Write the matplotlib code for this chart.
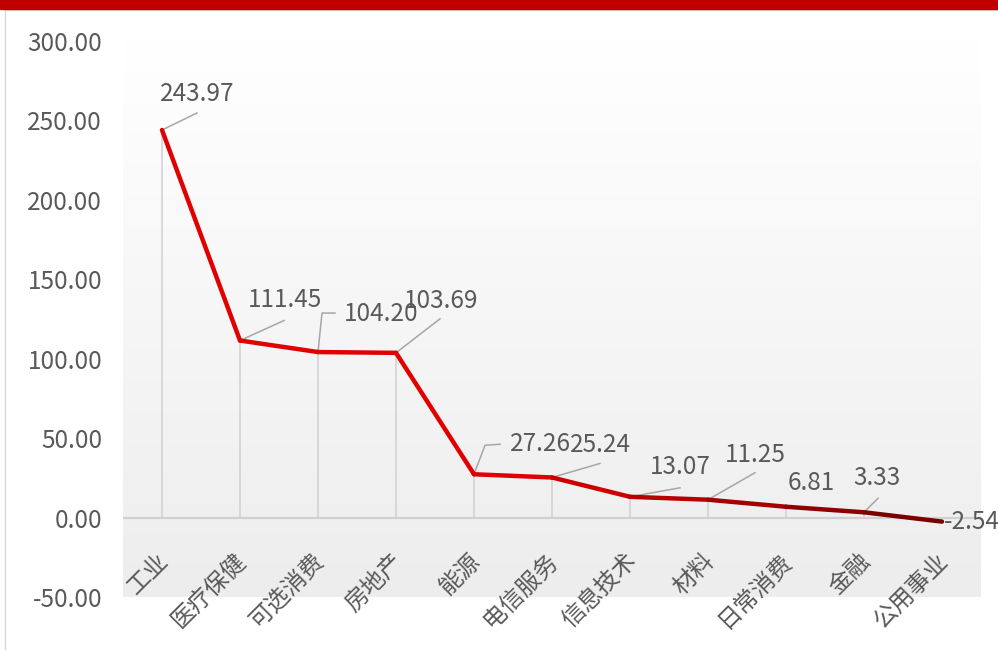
import matplotlib.pyplot as plt
import matplotlib.transforms as mtransforms
from matplotlib.collections import LineCollection
from matplotlib.colors import to_rgb
import numpy as np

plt.rcParams['font.family'] = ['Noto Sans CJK SC', 'DejaVu Sans']

# data
sectors = ['工业', '医疗保健', '可选消费', '房地产', '能源', '电信服务',
           '信息技术', '材料', '日常消费', '金融', '公用事业']
values = [243.97, 111.45, 104.20, 103.69, 27.26, 25.24,
          13.07, 11.25, 6.81, 3.33, -2.54]
y_ticks = [-50, 0, 50, 100, 150, 200, 250, 300]

# label layout, in pixels from the point: text (left, vcenter) and leader path
label_offsets = [(-2, 36), (8, 41), (26, 38), (8, 52), (36, 30), (18, 32),
                 (20, 30), (17, 45), (2, 24), (-11, 34), (2, 0)]
leaders = [[(35, 17)], [(44, 20)], [(4, 39), (17, 39)], [(44, 34)],
           [(11, 29), (26, 30)], [(48, 14)], [(50, 9)], [(47, 27)],
           [], [(14, 14)], []]

TEXT = '#595959'

fig = plt.figure(figsize=(9.98, 6.5), dpi=100)
ax = fig.add_axes([123 / 998, 1 - 597 / 650, 858 / 998, 556 / 650])

x = np.arange(len(sectors))
ax.set_xlim(-0.5, len(sectors) - 0.5)
ax.set_ylim(-50, 300)

# background gradient of the plot area
grad = np.linspace(1.0, 0.0, 256).reshape(-1, 1)
top, bot = np.array(to_rgb('#ffffff')), np.array(to_rgb('#ededed'))
img = top * grad[..., None] + bot * (1 - grad[..., None])
ax.imshow(img, extent=(-0.5, len(sectors) - 0.5, -50, 300), aspect='auto',
          zorder=0, interpolation='bicubic')

for s in ax.spines.values():
    s.set_visible(False)
ax.set_xticks([])
ax.set_yticks(y_ticks)
ax.set_yticklabels([f'{v:.2f}' for v in y_ticks])
ax.tick_params(axis='y', length=0, pad=15, labelsize=17.5, labelcolor=TEXT)

# zero line and drop lines
ax.axhline(0, color='#d0d0d0', lw=1.6, zorder=1)
ax.vlines(x, 0, values, color='#d0d0d0', lw=1.1, zorder=1)

# gradient red line
pts = np.column_stack([x, values])
segs = np.stack([pts[:-1], pts[1:]], axis=1)
c0, c1 = np.array(to_rgb('#e00000')), np.array(to_rgb('#7a0000'))
cols = []
for i in range(len(segs)):
    t = max(0, (i - 4) / (len(segs) - 5))
    cols.append(c0 * (1 - t) + c1 * t)
lc = LineCollection(segs, colors=cols, linewidths=3.2, capstyle='round',
                    joinstyle='round', zorder=3)
ax.add_collection(lc)

# data labels with leader lines
fig.canvas.draw()
for i, v in enumerate(values):
    px, py = ax.transData.transform((i, v))
    if leaders[i]:
        path = [(0, 0)] + leaders[i]
        ax.plot([px + a for a, b in path], [py + b for a, b in path],
                color='#a6a6a6', lw=1.1, transform=mtransforms.IdentityTransform(),
                zorder=2)
    tr = mtransforms.offset_copy(ax.transData, fig=fig, x=label_offsets[i][0],
                                 y=label_offsets[i][1], units='dots')
    ax.text(i, v, f'{v:.2f}', transform=tr, ha='left', va='center',
            fontsize=17.5, color=TEXT, zorder=4)

# category labels, hanging below the zero line
for i, name in enumerate(sectors):
    tr = mtransforms.offset_copy(ax.transData, fig=fig, x=3, y=-40, units='dots')
    ax.text(i, 0, name, transform=tr, rotation=45, rotation_mode='anchor',
            ha='right', va='center', fontsize=17, color=TEXT, clip_on=False)

# slide frame: red band on top and thin grey border
fig.patches.append(plt.Rectangle((0, 1 - 9 / 650), 1, 9 / 650, transform=fig.transFigure,
                                 color='#c00000', zorder=5))
fig.lines.append(plt.Line2D([5 / 998, 5 / 998], [0, 1 - 10 / 650], transform=fig.transFigure,
                            color='#d9d9d9', lw=1))
fig.lines.append(plt.Line2D([5 / 998, 1], [1 - 10 / 650, 1 - 10 / 650],
                            transform=fig.transFigure, color='#e0e0e0', lw=1))

fig.savefig('out.png', dpi=100)
